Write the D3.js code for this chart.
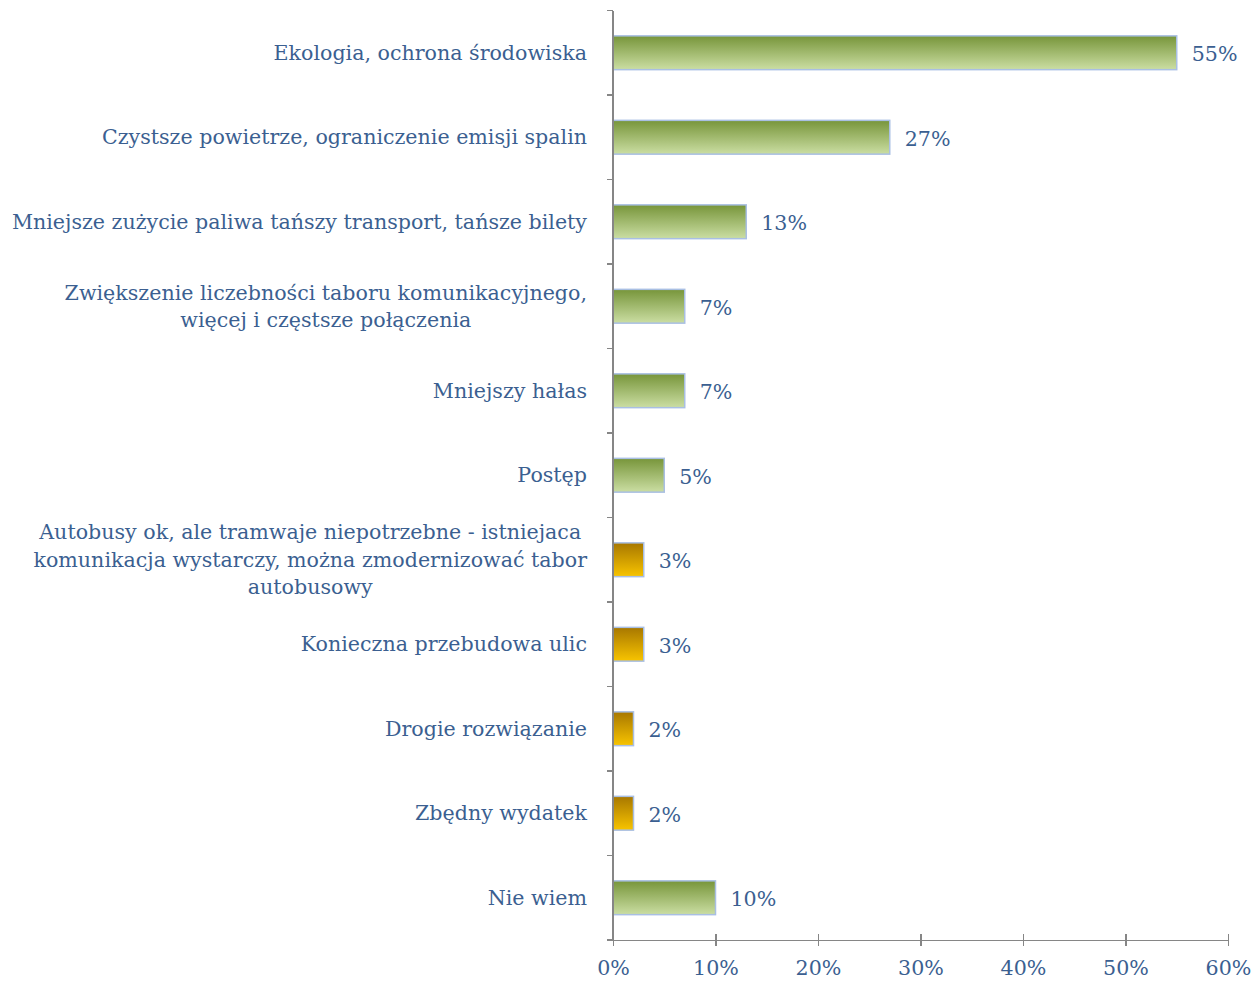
<!DOCTYPE html>
<html lang="pl">
<head>
<meta charset="UTF-8">
<title>Wykres</title>
<script src="https://cdn.jsdelivr.net/npm/d3@7"></script>
<style>
  body { margin: 0; background: #fff; }
  text { font-family: Georgia, "DejaVu Serif", serif; fill: #3b5f91; }
  .axis path, .axis line { stroke: #868686; stroke-width: 1.5; shape-rendering: crispEdges; }
</style>
</head>
<body>
<script>
// kategorie (każdy element = linie etykiety)
let categories = [
  ['Ekologia, ochrona środowiska'],
  ['Czystsze powietrze, ograniczenie emisji spalin'],
  ['Mniejsze zużycie paliwa tańszy transport, tańsze bilety'],
  ['Zwiększenie liczebności taboru komunikacyjnego,', 'więcej i częstsze połączenia'],
  ['Mniejszy hałas'],
  ['Postęp'],
  ['Autobusy ok, ale tramwaje niepotrzebne - istniejaca', 'komunikacja wystarczy, można zmodernizować tabor', 'autobusowy'],
  ['Konieczna przebudowa ulic'],
  ['Drogie rozwiązanie'],
  ['Zbędny wydatek'],
  ['Nie wiem']
];
let values = [55, 27, 13, 7, 7, 5, 3, 3, 2, 2, 10];
// g = pozytywne, o = negatywne
let kinds = ['g', 'g', 'g', 'g', 'g', 'g', 'o', 'o', 'o', 'o', 'g'];
let xTicks = [0, 10, 20, 30, 40, 50, 60];

let width = 1254, height = 981;
let plotLeft = 613, plotRight = 1228, plotTop = 10.5, plotBottom = 940;
let fontSize = 20.6;

let svg = d3.select('body').append('svg')
  .attr('width', width)
  .attr('height', height);

let defs = svg.append('defs');
let gGreen = defs.append('linearGradient').attr('id', 'gradG')
  .attr('x1', 0).attr('y1', 0).attr('x2', 0).attr('y2', 1);
gGreen.append('stop').attr('offset', '0%').attr('stop-color', '#77953a');
gGreen.append('stop').attr('offset', '100%').attr('stop-color', '#cbdea3');
let gOrange = defs.append('linearGradient').attr('id', 'gradO')
  .attr('x1', 0).attr('y1', 0).attr('x2', 0).attr('y2', 1);
gOrange.append('stop').attr('offset', '0%').attr('stop-color', '#a77700');
gOrange.append('stop').attr('offset', '100%').attr('stop-color', '#f8c400');

let xScale = d3.scaleLinear().domain([0, 60]).range([plotLeft, plotRight]);
let yScale = d3.scaleBand()
  .domain(d3.range(categories.length))
  .range([plotTop, plotBottom])
  .paddingInner(0.6)
  .paddingOuter(0.3);
let step = yScale.step();

// słupki
svg.selectAll('.bar')
  .data(values)
  .enter()
  .append('rect')
  .attr('class', 'bar')
  .attr('x', xScale(0))
  .attr('y', (d, i) => yScale(i))
  .attr('width', d => xScale(d) - xScale(0))
  .attr('height', yScale.bandwidth())
  .attr('fill', (d, i) => kinds[i] === 'g' ? 'url(#gradG)' : 'url(#gradO)')
  .attr('stroke', '#a9bfe3')
  .attr('stroke-width', 1.5);

// wartości
svg.selectAll('.val')
  .data(values)
  .enter()
  .append('text')
  .attr('class', 'val')
  .attr('x', d => xScale(d) + 15)
  .attr('y', (d, i) => yScale(i) + yScale.bandwidth() / 2 + 1.5)
  .attr('dy', '0.35em')
  .style('font-size', fontSize + 'px')
  .text(d => d + '%');

// oś y (linia + znaczniki na granicach kategorii)
let yAxisG = svg.append('g').attr('class', 'axis');
yAxisG.append('line')
  .attr('x1', plotLeft).attr('x2', plotLeft)
  .attr('y1', plotTop).attr('y2', plotBottom);
yAxisG.selectAll('.tick')
  .data(d3.range(categories.length + 1))
  .enter()
  .append('line')
  .attr('x1', plotLeft - 6).attr('x2', plotLeft)
  .attr('y1', i => plotTop + i * step)
  .attr('y2', i => plotTop + i * step);

// oś x
let xAxis = d3.axisBottom(xScale)
  .tickValues(xTicks)
  .tickSize(6)
  .tickSizeOuter(0)
  .tickFormat(d => d + '%');
let xg = svg.append('g')
  .attr('class', 'axis')
  .attr('transform', 'translate(0,' + plotBottom + ')')
  .call(xAxis);
xg.selectAll('line').attr('y1', -6).attr('y2', 6);
xg.selectAll('text')
  .attr('y', 20)
  .style('font-size', fontSize + 'px')
  .style('fill', '#3b5f91');

// etykiety kategorii
let lineH = 27.5;
categories.forEach((lines, i) => {
  let cy = yScale(i) + yScale.bandwidth() / 2;
  let g = svg.append('g');
  let texts = lines.map((l, k) => g.append('text')
    .style('font-size', fontSize + 'px')
    .attr('text-anchor', 'middle')
    .attr('y', cy + (k - (lines.length - 1) / 2) * lineH)
    .attr('dy', '0.35em')
    .text(l));
  let maxW = d3.max(texts, t => t.node().getComputedTextLength());
  texts.forEach(t => t.attr('x', 587 - maxW / 2));
});
</script>
</body>
</html>
